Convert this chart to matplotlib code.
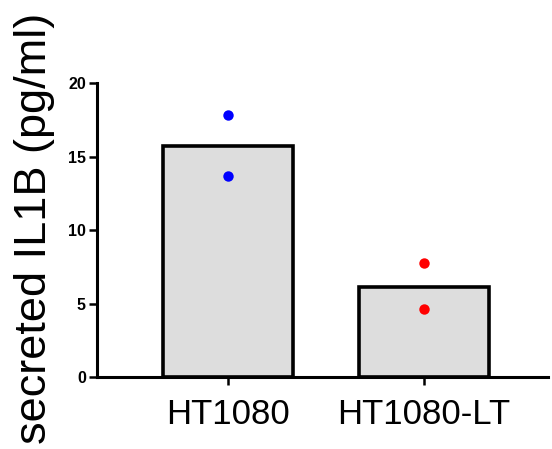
import matplotlib
matplotlib.use("Agg")
import matplotlib.pyplot as plt

categories = ["HT1080", "HT1080-LT"]
bar_values = [15.7, 6.15]
points = [[17.8, 13.7], [7.75, 4.65]]
point_colors = ["#0000ff", "#ff0000"]
yticks = [0, 5, 10, 15, 20]

fig = plt.figure(figsize=(5.52, 4.49), dpi=100)
ax = fig.add_axes([0.1757, 0.160, 0.8171, 0.655])

x = list(range(len(categories)))
ax.bar(x, bar_values, width=0.66, color="#dddddd", edgecolor="black", linewidth=2.6, zorder=2)
for i, (vals, c) in enumerate(zip(points, point_colors)):
    ax.plot([i] * len(vals), vals, "o", color=c, markersize=7.5, markeredgewidth=0, zorder=3)

ax.set_xlim(-0.668, 1.633)
ax.set_ylim(0, 20)
ax.set_yticks(yticks)
ax.set_xticks(x)
ax.set_xticklabels(categories, fontsize=25, family="Liberation Sans")
for lab in ax.get_yticklabels():
    lab.set_family("Liberation Sans")
    lab.set_fontweight("bold")
    lab.set_fontsize(11.5)

for s in ["top", "right"]:
    ax.spines[s].set_visible(False)
for s in ["left", "bottom"]:
    ax.spines[s].set_linewidth(2.2)
ax.tick_params(axis="both", width=1.8, length=6, direction="out")
ax.tick_params(axis="y", pad=2)
ax.tick_params(axis="x", pad=9)

ax.set_ylabel("secreted IL1B (pg/ml)", fontsize=32.5, family="Liberation Sans")
ax.yaxis.set_label_coords(-0.093, 0.505)

fig.savefig("out.png", dpi=100)
